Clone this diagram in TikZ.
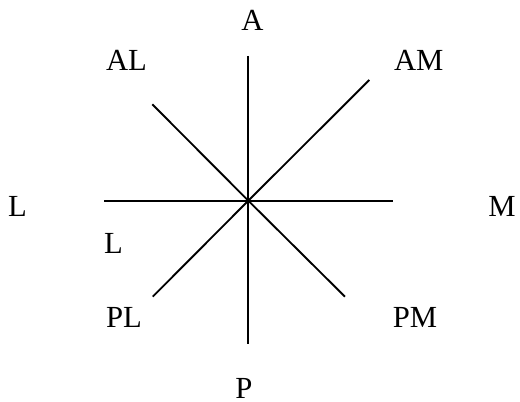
\documentclass[tikz,border=0pt]{standalone}
\usepackage{fontspec}
\setmainfont{Liberation Serif}
\begin{document}
\begin{tikzpicture}[x=0.75pt,y=-0.75pt,
  lab/.style={inner sep=0pt,font=\fontsize{23}{27}\selectfont},
  ray/.style={line width=1.4pt}]
\useasboundingbox (0,0) rectangle (520,402);
\coordinate (c) at (248.3,200.7);
\coordinate (n) at (248.3,56);
\coordinate (s) at (248.3,344.3);
\coordinate (w) at (104.3,200.7);
\coordinate (e) at (393.3,200.7);
\coordinate (ne) at (369.3,80);
\coordinate (nw) at (152.3,104.3);
\coordinate (sw) at (152.7,296.7);
\coordinate (se) at (345,296.7);
\draw[ray] (n) -- (s);
\draw[ray] (w) -- (e);
\draw[ray] (c) -- (ne);
\draw[ray] (c) -- (nw);
\draw[ray] (c) -- (sw);
\draw[ray] (c) -- (se);
\node[lab] (A) at (252.5,20.7) {A};
\node[lab] (AL) at (126.5,60) {AL};
\node[lab] (AM) at (418.7,60) {AM};
\node[lab] (L) at (17.5,206) {L};
\node[lab] (M) at (502,206) {M};
\node[lab] (L2) at (113.5,243.3) {L};
\node[lab] (PL) at (124,317) {PL};
\node[lab] (PM) at (415,317) {PM};
\node[lab] (P) at (244,388.5) {P};
\end{tikzpicture}
\end{document}
